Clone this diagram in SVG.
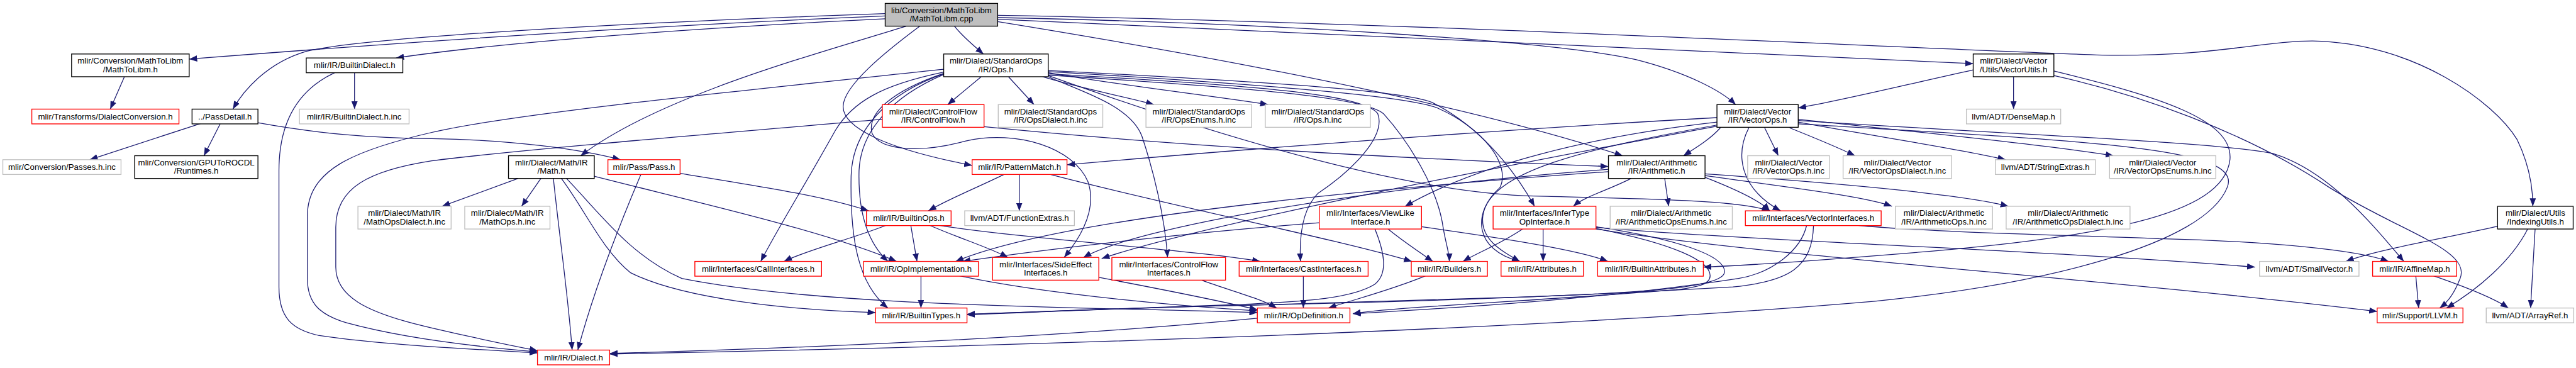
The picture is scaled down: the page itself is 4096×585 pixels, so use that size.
<svg xmlns="http://www.w3.org/2000/svg" width="4096" height="585" viewBox="0 0 4096 585">
<style>
rect{stroke-width:1.5}
.k rect{fill:#fff;stroke:#000}
.root rect{fill:#bfbfbf;stroke:#000}
.r rect{fill:#fff;stroke:#ff0000}
.g rect{fill:#fff;stroke:#bfbfbf}
text{font-family:"Liberation Sans",Arial,Helvetica,sans-serif;font-size:14.7px;fill:#000;text-anchor:middle}
#edges path{fill:none;stroke:#191970;stroke-width:1.4;marker-end:url(#ah)}
</style>
<defs>
<marker id="ah" markerUnits="userSpaceOnUse" markerWidth="14" markerHeight="11" refX="14" refY="5.5" orient="auto"><path d="M0,0 L14,5.5 L0,11 z" fill="#191970" stroke="none"/></marker>
</defs>
<rect x="0" y="0" width="4096" height="585" fill="#fff"/>
<g transform="scale(0.9034)">
<g id="edges">
<path d="M1558,28 C1150,45 700,75 333,104"/>
<path d="M1558,33 C1250,48 900,72 697,102"/>
<path d="M1558,24 C1100,40 650,65 540,90 C470,110 428,160 410,192"/>
<path d="M1680,46 C1693,63 1713,80 1731,95"/>
<path d="M1595,46 C1420,100 1160,170 1022,274"/>
<path d="M1619,46 C1560,90 1485,150 1484,187 C1483,225 1560,262 1711,291"/>
<path d="M1756,38 C2200,110 2600,190 2856,274"/>
<path d="M1756,31 C2300,42 2750,75 2880,105 C2970,128 3030,160 3055,184"/>
<path d="M1756,34 C2300,55 3000,95 3473,112"/>
<path d="M1756,27 C2500,40 3350,85 3700,97 C3900,100 3980,72 4070,72 C4250,75 4390,180 4430,245 C4452,290 4458,330 4458,363"/>
<path d="M219,135 L194,192"/>
<path d="M624,128 L624,192"/>
<path d="M589,128 C520,160 491,220 491,300 L491,505 C491,560 515,580 560,590 C680,608 850,615 946,621"/>
<path d="M354,217 L158,281"/>
<path d="M388,217 L359,274"/>
<path d="M454,216 C560,235 650,243 760,244 C900,246 1020,262 1092,281"/>
<path d="M1727,135 L1668,184"/>
<path d="M1775,135 L1820,184"/>
<path d="M1835,135 C1900,155 1980,170 2031,184"/>
<path d="M1845,128 C1970,150 2130,168 2232,184"/>
<path d="M1661,122 C1300,160 900,200 760,233 C620,265 541,300 541,380 L541,490 C541,535 565,555 610,568 C720,598 860,612 946,619"/>
<path d="M1553,210 C1200,240 900,265 760,283 C650,300 591,330 591,400 L591,470 C591,520 640,550 760,577 C850,598 910,610 946,617"/>
<path d="M1732,223 C2100,260 2500,280 2831,293"/>
<path d="M1767,307 C1720,330 1670,350 1634,371"/>
<path d="M1794,307 L1794,371"/>
<path d="M1849,307 C2050,360 2350,420 2485,460"/>
<path d="M1197,305 C1350,330 1450,345 1529,371"/>
<path d="M1128,307 C1080,420 1040,530 1017,616"/>
<path d="M912,314 L778,363"/>
<path d="M952,314 L918,363"/>
<path d="M974,314 C985,420 1000,520 1007,616"/>
<path d="M988,314 C1030,370 1060,440 1110,480 C1200,525 1380,545 1541,550"/>
<path d="M997,314 C1060,380 1110,450 1200,490 C1450,540 1900,540 2213,550"/>
<path d="M1046,310 C1200,350 1450,405 1578,460"/>
<path d="M1661,131 C1570,170 1515,230 1512,300 C1510,380 1530,430 1563,460"/>
<path d="M1661,130 C1560,165 1500,230 1498,310 C1496,420 1510,500 1563,542"/>
<path d="M1661,127 C1550,150 1500,180 1470,230 C1420,320 1370,400 1339,460"/>
<path d="M1561,396 C1500,420 1420,440 1380,460"/>
<path d="M1603,396 L1614,460"/>
<path d="M1635,396 C1690,420 1740,435 1774,453"/>
<path d="M1648,396 C1800,420 2100,440 2218,460"/>
<path d="M1621,485 L1621,542"/>
<path d="M1687,485 C1850,520 2100,540 2213,547"/>
<path d="M1934,488 C2050,510 2150,530 2213,545"/>
<path d="M2115,493 C2160,510 2220,525 2247,542"/>
<path d="M2294,485 L2294,542"/>
<path d="M2510,485 C2450,510 2390,525 2338,542"/>
<path d="M2443,403 C2470,425 2500,445 2522,460"/>
<path d="M2502,399 C2650,420 2780,440 2830,460"/>
<path d="M2420,403 C2435,440 2445,480 2420,500 C2380,525 2300,530 2200,535 C2000,541 1800,550 1702,553"/>
<path d="M2322,392 C2150,405 1900,430 1694,460"/>
<path d="M2680,403 C2640,430 2600,445 2575,460"/>
<path d="M2716,403 L2716,460"/>
<path d="M2809,402 C2950,430 3010,460 3010,485 C3010,500 2990,505 2950,510 C2700,530 2450,540 2381,552"/>
<path d="M2809,399 C2950,420 3040,450 3035,480 C3030,505 2900,515 2700,522 C2450,530 2300,534 2200,537 C2000,541 1800,550 1702,554"/>
<path d="M2809,400 C3100,425 3600,440 3969,470"/>
<path d="M2809,403 C3100,450 3700,490 4184,548"/>
<path d="M2871,314 C2830,335 2790,345 2769,363"/>
<path d="M2930,314 L2937,363"/>
<path d="M3001,309 C3150,330 3280,345 3330,363"/>
<path d="M3001,306 C3200,320 3450,340 3535,363"/>
<path d="M3001,312 C3060,335 3100,355 3115,371"/>
<path d="M1845,130 C2200,150 2400,165 2425,200 C2440,240 2380,300 2320,340 C2290,370 2287,420 2289,460"/>
<path d="M2831,298 C2400,330 2000,400 1907,453"/>
<path d="M2831,302 C2300,340 1850,390 1682,460"/>
<path d="M3028,225 C3010,245 2985,260 2963,274"/>
<path d="M3022,207 C2600,230 2100,270 1878,290"/>
<path d="M3106,225 L3130,274"/>
<path d="M3150,225 C3200,245 3240,262 3265,274"/>
<path d="M3165,215 C3300,240 3450,262 3530,281"/>
<path d="M3165,210 C3400,235 3600,255 3720,274"/>
<path d="M3078,225 C3055,270 3060,330 3134,371"/>
<path d="M3022,215 C2800,240 2600,290 2473,363"/>
<path d="M3022,220 C2800,260 2620,300 2610,380 C2605,420 2640,440 2675,460"/>
<path d="M3165,212 C3600,240 3900,250 4000,270 C4100,300 4180,400 4231,460"/>
<path d="M3165,218 C3700,250 3950,260 3920,330 C3880,430 3600,500 3300,530 C2600,590 1500,615 1073,623"/>
<path d="M3473,123 C3350,150 3250,175 3165,190"/>
<path d="M3544,135 L3544,192"/>
<path d="M3615,125 C3800,170 3930,210 3925,280 C3915,380 3700,420 3300,450 C3150,462 3050,468 2998,470"/>
<path d="M3615,133 C3760,165 3950,230 4100,330 C4230,410 4350,440 4330,490 C4320,515 4310,530 4294,542"/>
<path d="M3180,396 C3170,440 3120,480 3060,490 C2800,530 2500,545 2381,552"/>
<path d="M3192,396 C3190,470 3150,495 3050,505 C2700,525 2400,533 2200,537 C2000,541 1800,550 1702,553"/>
<path d="M3265,396 C3400,410 3700,415 3800,420 C4000,425 4150,440 4204,460"/>
<path d="M4396,398 C4300,420 4180,440 4129,460"/>
<path d="M4449,403 C4420,460 4360,510 4306,542"/>
<path d="M4462,403 L4454,542"/>
<path d="M4252,485 L4257,542"/>
<path d="M4282,485 C4340,505 4390,525 4415,542"/>
<path d="M1845,135 C1900,160 1990,185 2010,240 C2030,300 2050,380 2055,453"/>
<path d="M1661,129 C1570,160 1525,200 1535,235 C1550,265 1620,270 1700,248 C1790,228 1890,260 1915,320 C1932,370 1900,420 1873,453"/>
<path d="M1845,132 C2200,155 2400,170 2435,200 C2480,250 2530,330 2540,400 C2545,430 2551,445 2551,460"/>
<path d="M1845,124 C2250,145 2470,160 2520,180 C2600,220 2660,290 2701,363"/>
<path d="M1845,126 C2250,150 2480,170 2530,190 C2610,225 2660,290 2640,330 C2590,375 2595,440 2675,460"/>
<path d="M1845,133 C2200,260 2500,340 2700,345 C2900,350 3060,352 3115,371"/>
<path d="M2213,560 C1900,590 1500,610 1073,622"/>
<path d="M3022,222 C2600,300 2100,400 1939,455"/>
</g>
<g id="n_cpp" class="root"><rect x="1558" y="6" width="198" height="40"/><text x="1657" y="23">lib/Conversion/MathToLibm</text><text x="1657" y="38">/MathToLibm.cpp</text></g>
<g id="n_mtl" class="k"><rect x="126" y="95" width="207" height="40"/><text x="229.5" y="112">mlir/Conversion/MathToLibm</text><text x="229.5" y="127">/MathToLibm.h</text></g>
<g id="n_bd" class="k"><rect x="539" y="102" width="170" height="26"/><text x="624" y="120">mlir/IR/BuiltinDialect.h</text></g>
<g id="n_ops" class="k"><rect x="1661" y="95" width="184" height="40"/><text x="1753" y="112">mlir/Dialect/StandardOps</text><text x="1753" y="127">/IR/Ops.h</text></g>
<g id="n_vu" class="k"><rect x="3473" y="95" width="142" height="40"/><text x="3544" y="112">mlir/Dialect/Vector</text><text x="3544" y="127">/Utils/VectorUtils.h</text></g>
<g id="n_dc" class="r"><rect x="56" y="192" width="259" height="26"/><text x="185.5" y="210">mlir/Transforms/DialectConversion.h</text></g>
<g id="n_pd" class="k"><rect x="338" y="192" width="116" height="26"/><text x="396" y="210">../PassDetail.h</text></g>
<g id="n_bdi" class="g"><rect x="527" y="192" width="193" height="26"/><text x="623.5" y="210">mlir/IR/BuiltinDialect.h.inc</text></g>
<g id="n_cf" class="r"><rect x="1553" y="184" width="179" height="40"/><text x="1642.5" y="201">mlir/Dialect/ControlFlow</text><text x="1642.5" y="216">/IR/ControlFlow.h</text></g>
<g id="n_opsd" class="g"><rect x="1757" y="184" width="184" height="40"/><text x="1849" y="201">mlir/Dialect/StandardOps</text><text x="1849" y="216">/IR/OpsDialect.h.inc</text></g>
<g id="n_opse" class="g"><rect x="2017" y="184" width="186" height="40"/><text x="2110" y="201">mlir/Dialect/StandardOps</text><text x="2110" y="216">/IR/OpsEnums.h.inc</text></g>
<g id="n_opsi" class="g"><rect x="2227" y="184" width="185" height="40"/><text x="2319.5" y="201">mlir/Dialect/StandardOps</text><text x="2319.5" y="216">/IR/Ops.h.inc</text></g>
<g id="n_vo" class="k"><rect x="3022" y="184" width="143" height="40"/><text x="3093.5" y="201">mlir/Dialect/Vector</text><text x="3093.5" y="216">/IR/VectorOps.h</text></g>
<g id="n_dm" class="g"><rect x="3461" y="192" width="166" height="26"/><text x="3544" y="210">llvm/ADT/DenseMap.h</text></g>
<g id="n_pinc" class="g"><rect x="5" y="281" width="208" height="26"/><text x="109" y="299">mlir/Conversion/Passes.h.inc</text></g>
<g id="n_rt" class="k"><rect x="237" y="274" width="217" height="40"/><text x="345.5" y="291">mlir/Conversion/GPUToROCDL</text><text x="345.5" y="306">/Runtimes.h</text></g>
<g id="n_math" class="k"><rect x="895" y="274" width="151" height="40"/><text x="970.5" y="291">mlir/Dialect/Math/IR</text><text x="970.5" y="306">/Math.h</text></g>
<g id="n_pass" class="r"><rect x="1070" y="281" width="127" height="26"/><text x="1133.5" y="299">mlir/Pass/Pass.h</text></g>
<g id="n_pm" class="r"><rect x="1711" y="281" width="167" height="26"/><text x="1794.5" y="299">mlir/IR/PatternMatch.h</text></g>
<g id="n_ar" class="k"><rect x="2831" y="274" width="170" height="40"/><text x="2916" y="291">mlir/Dialect/Arithmetic</text><text x="2916" y="306">/IR/Arithmetic.h</text></g>
<g id="n_voi" class="g"><rect x="3076" y="274" width="144" height="40"/><text x="3148" y="291">mlir/Dialect/Vector</text><text x="3148" y="306">/IR/VectorOps.h.inc</text></g>
<g id="n_vodi" class="g"><rect x="3244" y="274" width="191" height="40"/><text x="3339.5" y="291">mlir/Dialect/Vector</text><text x="3339.5" y="306">/IR/VectorOpsDialect.h.inc</text></g>
<g id="n_se" class="g"><rect x="3512" y="281" width="176" height="26"/><text x="3600" y="299">llvm/ADT/StringExtras.h</text></g>
<g id="n_voe" class="g"><rect x="3713" y="274" width="187" height="40"/><text x="3806.5" y="291">mlir/Dialect/Vector</text><text x="3806.5" y="306">/IR/VectorOpsEnums.h.inc</text></g>
<g id="n_mod" class="g"><rect x="630" y="363" width="164" height="40"/><text x="712" y="380">mlir/Dialect/Math/IR</text><text x="712" y="395">/MathOpsDialect.h.inc</text></g>
<g id="n_moi" class="g"><rect x="818" y="363" width="150" height="40"/><text x="893" y="380">mlir/Dialect/Math/IR</text><text x="893" y="395">/MathOps.h.inc</text></g>
<g id="n_bo" class="r"><rect x="1525" y="371" width="149" height="26"/><text x="1599.5" y="389">mlir/IR/BuiltinOps.h</text></g>
<g id="n_fe" class="g"><rect x="1698" y="371" width="193" height="26"/><text x="1794.5" y="389">llvm/ADT/FunctionExtras.h</text></g>
<g id="n_vl" class="r"><rect x="2322" y="363" width="180" height="40"/><text x="2412" y="380">mlir/Interfaces/ViewLike</text><text x="2412" y="395">Interface.h</text></g>
<g id="n_it" class="r"><rect x="2628" y="363" width="181" height="40"/><text x="2718.5" y="380">mlir/Interfaces/InferType</text><text x="2718.5" y="395">OpInterface.h</text></g>
<g id="n_aoe" class="g"><rect x="2834" y="363" width="215" height="40"/><text x="2941.5" y="380">mlir/Dialect/Arithmetic</text><text x="2941.5" y="395">/IR/ArithmeticOpsEnums.h.inc</text></g>
<g id="n_vi" class="r"><rect x="3072" y="371" width="239" height="26"/><text x="3191.5" y="389">mlir/Interfaces/VectorInterfaces.h</text></g>
<g id="n_aoi" class="g"><rect x="3336" y="363" width="171" height="40"/><text x="3421.5" y="380">mlir/Dialect/Arithmetic</text><text x="3421.5" y="395">/IR/ArithmeticOps.h.inc</text></g>
<g id="n_aod" class="g"><rect x="3531" y="363" width="218" height="40"/><text x="3640" y="380">mlir/Dialect/Arithmetic</text><text x="3640" y="395">/IR/ArithmeticOpsDialect.h.inc</text></g>
<g id="n_iu" class="k"><rect x="4396" y="363" width="133" height="40"/><text x="4462.5" y="380">mlir/Dialect/Utils</text><text x="4462.5" y="395">/IndexingUtils.h</text></g>
<g id="n_ci" class="r"><rect x="1223" y="460" width="223" height="26"/><text x="1334.5" y="478">mlir/Interfaces/CallInterfaces.h</text></g>
<g id="n_oi" class="r"><rect x="1520" y="460" width="202" height="26"/><text x="1621" y="478">mlir/IR/OpImplementation.h</text></g>
<g id="n_sei" class="r"><rect x="1747" y="453" width="187" height="40"/><text x="1840.5" y="470">mlir/Interfaces/SideEffect</text><text x="1840.5" y="485">Interfaces.h</text></g>
<g id="n_cfi" class="r"><rect x="1957" y="453" width="200" height="40"/><text x="2057" y="470">mlir/Interfaces/ControlFlow</text><text x="2057" y="485">Interfaces.h</text></g>
<g id="n_cai" class="r"><rect x="2181" y="460" width="227" height="26"/><text x="2294.5" y="478">mlir/Interfaces/CastInterfaces.h</text></g>
<g id="n_bu" class="r"><rect x="2484" y="460" width="134" height="26"/><text x="2551" y="478">mlir/IR/Builders.h</text></g>
<g id="n_at" class="r"><rect x="2642" y="460" width="145" height="26"/><text x="2714.5" y="478">mlir/IR/Attributes.h</text></g>
<g id="n_ba" class="r"><rect x="2812" y="460" width="186" height="26"/><text x="2905" y="478">mlir/IR/BuiltinAttributes.h</text></g>
<g id="n_sv" class="g"><rect x="3977" y="460" width="175" height="26"/><text x="4064.5" y="478">llvm/ADT/SmallVector.h</text></g>
<g id="n_am" class="r"><rect x="4176" y="460" width="148" height="26"/><text x="4250" y="478">mlir/IR/AffineMap.h</text></g>
<g id="n_bt" class="r"><rect x="1541" y="542" width="161" height="26"/><text x="1621.5" y="560">mlir/IR/BuiltinTypes.h</text></g>
<g id="n_od" class="r"><rect x="2213" y="542" width="163" height="26"/><text x="2294.5" y="560">mlir/IR/OpDefinition.h</text></g>
<g id="n_ll" class="r"><rect x="4184" y="542" width="151" height="26"/><text x="4259.5" y="560">mlir/Support/LLVM.h</text></g>
<g id="n_arf" class="g"><rect x="4376" y="542" width="154" height="26"/><text x="4453" y="560">llvm/ADT/ArrayRef.h</text></g>
<g id="n_dl" class="r"><rect x="946" y="616" width="127" height="26"/><text x="1009.5" y="634">mlir/IR/Dialect.h</text></g>
</g>
</svg>
